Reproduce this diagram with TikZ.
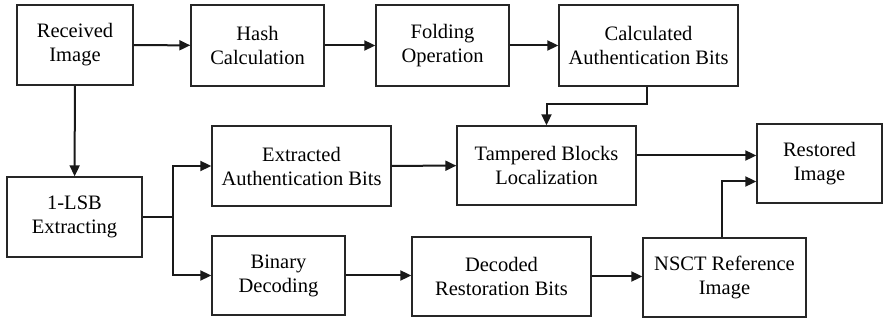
\documentclass[tikz,border=0pt]{standalone}
\usepackage{fontspec}
\setmainfont{Liberation Serif}
\usetikzlibrary{arrows.meta,calc}
\begin{document}
\begin{tikzpicture}[x=1pt,y=-1pt,
  blk/.style={draw=black!85,line width=1.4pt,align=center,inner sep=0pt,
    font=\fontsize{20.5}{24}\selectfont,text=black},
  arr/.style={line width=2pt,draw=black!90,-{Triangle[length=11pt,width=10pt]}},
  ln/.style={line width=2pt,draw=black!90}]
\useasboundingbox (0,0) rectangle (883,320);
\node[blk,minimum width=116pt,minimum height=80pt] (rec) at (75,45) {Received\\Image};
\node[blk,minimum width=133pt,minimum height=81pt] (hash) at (257.5,45.5) {Hash\\Calculation};
\node[blk,minimum width=133pt,minimum height=81pt] (fold) at (442.5,45.5) {Folding\\Operation};
\node[blk,minimum width=179pt,minimum height=81pt] (calc) at (648.5,45.5) {Calculated\\Authentication Bits};
\node[blk,minimum width=179pt,minimum height=80pt] (ext) at (301.5,166) {Extracted\\Authentication Bits};
\node[blk,minimum width=179pt,minimum height=79pt] (tam) at (546.5,165.5) {Tampered Blocks\\Localization};
\node[blk,minimum width=125pt,minimum height=79pt] (res) at (819.5,163.5) {Restored\\Image};
\node[blk,minimum width=135pt,minimum height=80pt] (lsb) at (74.5,217) {1-LSB\\Extracting};
\node[blk,minimum width=133pt,minimum height=79pt] (bin) at (278.5,275.5) {Binary\\Decoding};
\node[blk,minimum width=179pt,minimum height=79pt] (dec) at (501.5,276.5) {Decoded\\Restoration Bits};
\node[blk,minimum width=163pt,minimum height=79pt] (nsct) at (724.5,277.5) {NSCT Reference\\Image};
\coordinate (split) at (173,217);
\draw[arr] (rec) -- (hash);
\draw[arr] (hash) -- (fold);
\draw[arr] (fold) -- (calc);
\draw[arr] (rec) -- (lsb);
\draw[arr] ([xshift=-2pt]calc.south) -- ++(0,17) -| (tam.north);
\draw[ln] (lsb.east) -- (split);
\draw[arr] (split) |- (ext.west);
\draw[arr] (split) |- (bin.west);
\draw[arr] (ext) -- (tam);
\draw[arr] ([yshift=10pt]tam.east) -- ([yshift=10pt]tam.east -| res.west);
\draw[arr] (bin) -- (bin -| dec.west);
\draw[arr] (dec) -- (dec -| nsct.west);
\draw[arr] ([xshift=-3pt]nsct.north) |- ([yshift=-18pt]res.west);
\end{tikzpicture}
\end{document}
